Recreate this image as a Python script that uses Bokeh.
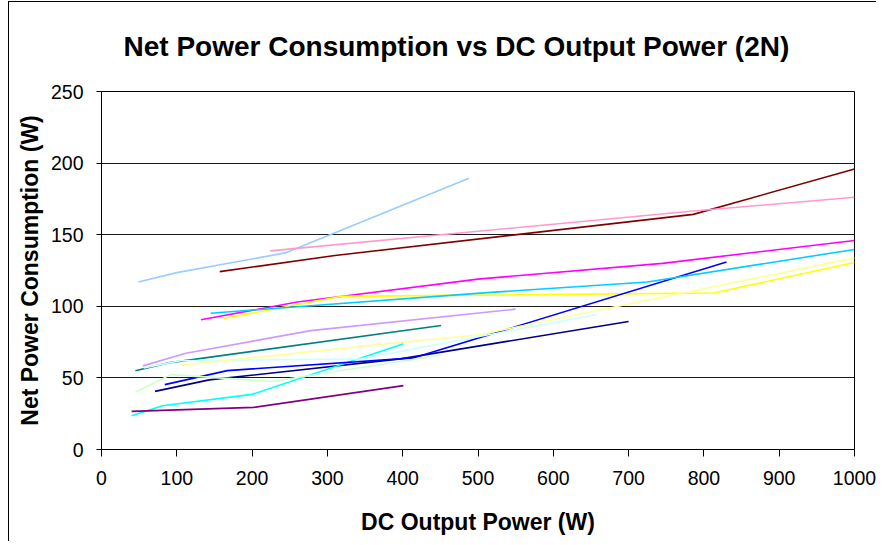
from bokeh.plotting import figure
from bokeh.models import Range1d, FixedTicker
from bokeh.embed import file_html
from bokeh.resources import INLINE

TITLE = "Net Power Consumption vs DC Output Power (2N)"
X_LABEL = "DC Output Power (W)"
Y_LABEL = "Net Power Consumption (W)"

x_ticks = [0, 100, 200, 300, 400, 500, 600, 700, 800, 900, 1000]
y_ticks = [0, 50, 100, 150, 200, 250]

# DC output power (W) / net power consumption (W) per unit
s01_x = [71, 143, 397, 700]
s01_y = [40.6, 48.6, 63.3, 89.4]
s02_x = [132, 260, 500, 745, 1000]
s02_y = [90.6, 103, 119, 130, 146]
s03_x = [162, 317, 813, 1000]
s03_y = [91.5, 106.9, 109.3, 130.6]
s04_x = [40, 81, 200, 401]
s04_y = [23.5, 30.6, 38.5, 73.8]
s05_x = [40, 202, 401]
s05_y = [26.6, 29.4, 44.6]
s06_x = [157, 310, 786, 1000]
s06_y = [124.2, 135.5, 164.2, 195.9]
s07_x = [45, 89, 451]
s07_y = [55.0, 60.5, 86.6]
s08_x = [84, 167, 415, 830]
s08_y = [45.3, 55.1, 64.0, 131.0]
s09_x = [145, 503, 725, 1000]
s09_y = [95.2, 109.2, 117.0, 139.7]
s10_x = [56, 105, 344, 658]
s10_y = [57.0, 62.0, 63.3, 94.3]
s11_x = [45, 92, 226, 451]
s11_y = [40.0, 52.3, 47.5, 66.0]
s12_x = [105, 400, 500, 1000]
s12_y = [58.8, 75.0, 80.0, 133.8]
s13_x = [49, 100, 244, 488]
s13_y = [117.0, 123.5, 137.3, 189.4]
s14_x = [224, 786, 1000]
s14_y = [138.7, 166.5, 176.1]
s15_x = [55, 112, 278, 550]
s15_y = [58.4, 67.2, 83.0, 98.0]

series = [
    (s01_x, s01_y, "#000080"),
    (s02_x, s02_y, "#FF00FF"),
    (s03_x, s03_y, "#FFFF00"),
    (s04_x, s04_y, "#00FFFF"),
    (s05_x, s05_y, "#800080"),
    (s06_x, s06_y, "#800000"),
    (s07_x, s07_y, "#008080"),
    (s08_x, s08_y, "#0000FF"),
    (s09_x, s09_y, "#00CCFF"),
    (s10_x, s10_y, "#CCFFFF"),
    (s11_x, s11_y, "#CCFFCC"),
    (s12_x, s12_y, "#FFFF99"),
    (s13_x, s13_y, "#99CCFF"),
    (s14_x, s14_y, "#FF99CC"),
    (s15_x, s15_y, "#CC99FF"),
]

FONT = "Liberation Sans"

p = figure(width=868, height=540,
           x_range=Range1d(0, 1000), y_range=Range1d(0, 250),
           output_backend="svg", toolbar_location=None,
           min_border_left=92, min_border_right=23,
           min_border_top=89, min_border_bottom=93)
p.styles = {"margin-left": "8px", "margin-top": "1px",
            "border-top": "1px solid #000", "border-left": "1px solid #000"}
p.background_fill_color = "white"
p.border_fill_color = "white"
p.outline_line_color = "black"
p.outline_line_alpha = 1
p.outline_line_width = 1

p.title.text = TITLE
p.title.align = "left"
p.title.vertical_align = "top"
p.title.offset = 22
p.title.standoff = 56
p.title.text_font = FONT
p.title.text_font_style = "bold"
p.title.text_font_size = "28px"
p.title.text_color = "black"

p.xaxis.ticker = FixedTicker(ticks=x_ticks)
p.yaxis.ticker = FixedTicker(ticks=y_ticks)
p.xgrid.visible = False
p.ygrid.ticker = FixedTicker(ticks=y_ticks)
p.ygrid.grid_line_color = "#1a1a1a"
p.ygrid.grid_line_width = 1

for ax in (p.xaxis[0], p.yaxis[0]):
    ax.axis_line_color = "black"
    ax.major_tick_line_color = "black"
    ax.minor_tick_line_color = None
    ax.major_tick_in = 0
    ax.major_label_text_font = FONT
    ax.major_label_text_font_size = "19.5px"
    ax.major_label_text_color = "black"
    ax.axis_label_text_font = FONT
    ax.axis_label_text_font_style = "bold"
    ax.axis_label_text_font_size = "23px"
    ax.axis_label_text_color = "black"

p.xaxis.major_tick_out = 7
p.yaxis.major_tick_out = 5
p.xaxis.major_label_standoff = 14
p.yaxis.major_label_standoff = 13
p.xaxis.axis_label = X_LABEL
p.yaxis.axis_label = Y_LABEL
p.xaxis.axis_label_standoff = 21
p.yaxis.axis_label_standoff = 5

for xs, ys, c in series:
    p.line(xs, ys, line_color=c, line_width=1.6)

open("out.html", "w").write(file_html(p, INLINE))
